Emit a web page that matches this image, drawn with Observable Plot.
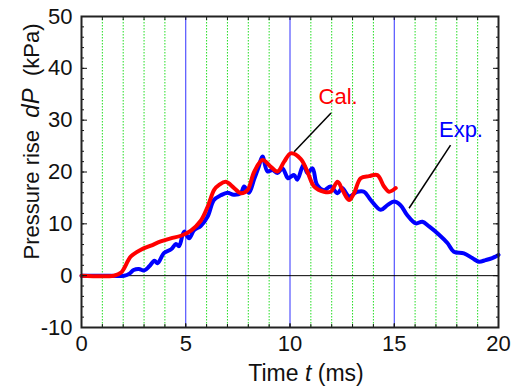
<!DOCTYPE html>
<html>
<head>
<meta charset="utf-8">
<script src="https://cdn.jsdelivr.net/npm/d3@7"></script>
<script src="https://cdn.jsdelivr.net/npm/@observablehq/plot@0.6"></script>
<style>
  html, body { margin: 0; padding: 0; background: #fff; }
  svg { font-family: "Liberation Sans", Arial, sans-serif; }
</style>
</head>
<body>
<div id="chart"></div>
<script>
// Experimental pressure rise (blue): time (ms), dP (kPa)
const expT = [0, 1, 2.05, 2.3, 2.5, 2.75, 3.0, 3.25, 3.5, 3.65, 3.96, 4.3, 4.53, 4.68, 4.92, 5.16, 5.4, 5.72, 6.05, 6.35, 6.68, 7.0, 7.3, 7.64, 7.8, 8.03, 8.27, 8.5, 8.68, 8.92, 9.16, 9.4, 9.64, 9.9, 10.04, 10.2, 10.35, 10.65, 10.84, 11.08, 11.3, 11.63, 11.95, 12.28, 12.5, 12.83, 13.23, 13.55, 13.87, 14.35, 14.67, 14.99, 15.3, 15.6, 16.03, 16.35, 16.67, 17.15, 17.55, 17.86, 18.34, 18.74, 19.06, 19.38, 19.7, 20.0];
const expP = [0, 0, 0, 0.4, 1.1, 1.3, 1.0, 1.8, 2.9, 2.4, 4.4, 5.1, 6.1, 5.7, 8.5, 7.2, 8.8, 9.6, 11.4, 14.6, 15.5, 16.0, 15.6, 15.9, 17.2, 16.0, 18.5, 21.0, 23.0, 20.1, 20.4, 19.8, 20.7, 18.8, 19.1, 19.4, 18.5, 21.4, 19.8, 20.7, 17.5, 16.5, 17.2, 15.9, 16.9, 15.3, 16.2, 16.2, 14.6, 12.7, 13.6, 14.3, 13.6, 11.8, 10.1, 10.4, 9.5, 7.9, 6.3, 4.6, 4.3, 3.4, 2.7, 3.0, 3.4, 4.0];
// Calculated pressure rise (red)
const calT = [0, 1.55, 1.9, 2.37, 2.85, 3.33, 3.8, 4.28, 4.77, 5.25, 5.72, 6.05, 6.37, 6.6, 6.92, 7.32, 7.64, 7.96, 8.28, 8.68, 9.08, 9.4, 9.72, 10.04, 10.52, 10.84, 11.16, 11.63, 11.95, 12.28, 12.52, 12.83, 13.07, 13.39, 13.79, 14.19, 14.51, 14.75, 15.07];
const calP = [0, 0, 0.6, 3.7, 5.0, 5.8, 6.6, 7.2, 7.7, 8.7, 10.6, 13.3, 16.6, 17.5, 18.1, 16.9, 15.9, 16.5, 20.0, 22.3, 21.0, 20.1, 22.0, 23.6, 22.5, 20.0, 17.2, 16.2, 16.2, 18.1, 16.5, 14.6, 15.9, 18.8, 19.2, 19.4, 17.2, 16.2, 16.9];

// Ticks
const xMajorTicks = [0, 5, 10, 15, 20];
const xMinorTicks = d3.range(0, 21, 1);
const yMajorTicks = [-10, 0, 10, 20, 30, 40, 50];
const yMinorTicks = d3.range(-10, 51, 2);
const greenGrid = d3.range(1, 20).filter(d => d % 5 !== 0);
const blueGrid = [5, 10, 15];

// Annotations
const labelText = ["Cal.", "Exp."];
const labelT = [12.31, 18.2];
const labelP = [34.5, 28.1];
const labelColor = ["#ff0000", "#0000ff"];
const leaderT1 = [11.97, 17.7];
const leaderP1 = [31.4, 25.2];
const leaderT2 = [10.2, 15.71];
const leaderP2 = [23.9, 13.0];

const expData = expT.map((t, i) => ({t, p: expP[i]}));
const calData = calT.map((t, i) => ({t, p: calP[i]}));
const labels = labelText.map((s, i) => ({s, t: labelT[i], p: labelP[i], c: labelColor[i]}));
const leaders = leaderT1.map((t, i) => ({t1: t, p1: leaderP1[i], t2: leaderT2[i], p2: leaderP2[i]}));

const W = 515, H = 390;
const chart = Plot.plot({
  width: W,
  height: H,
  marginLeft: 81,
  marginRight: 17,
  marginTop: 16,
  marginBottom: 63,
  style: {fontFamily: "'Liberation Sans', Arial, sans-serif", color: "#111", background: "#fff"},
  x: {domain: [0, 20]},
  y: {domain: [-10, 50]},
  marks: [
    Plot.ruleX(greenGrid, {stroke: "#22dd22", strokeWidth: 1, strokeDasharray: "1.5,1.5"}),
    Plot.ruleX(blueGrid, {stroke: "#3030ff", strokeWidth: 1}),
    Plot.ruleY([0], {stroke: "#000", strokeWidth: 1}),
    Plot.line(expData, {x: "t", y: "p", stroke: "#0000ff", strokeWidth: 4, curve: "catmull-rom"}),
    Plot.line(calData, {x: "t", y: "p", stroke: "#ff0000", strokeWidth: 4, curve: "catmull-rom"}),
    Plot.link(leaders, {x1: "t1", y1: "p1", x2: "t2", y2: "p2", stroke: "#000", strokeWidth: 1.5}),
    Plot.text(labels, {x: "t", y: "p", text: "s", fill: "c", fontSize: 22, textAnchor: "middle"}),
    // axes
    Plot.axisY({anchor: "left", ticks: yMajorTicks, tickSize: -6, tickPadding: 15, fontSize: 22, tickFormat: d => String(d), label: null}),
    Plot.axisY({anchor: "left", ticks: yMinorTicks, tickSize: -3, tickFormat: () => "", label: null}),
    Plot.axisY({anchor: "right", ticks: yMajorTicks, tickSize: -6, tickFormat: () => "", label: null}),
    Plot.axisY({anchor: "right", ticks: yMinorTicks, tickSize: -3, tickFormat: () => "", label: null}),
    Plot.axisX({anchor: "bottom", ticks: xMajorTicks, tickSize: -4, tickPadding: 12, fontSize: 22, tickFormat: d => String(d), label: null}),
    Plot.axisX({anchor: "bottom", ticks: xMinorTicks, tickSize: -3, tickFormat: () => "", label: null}),
    Plot.axisX({anchor: "top", ticks: xMinorTicks, tickSize: -3, tickFormat: () => "", label: null}),
    Plot.frame({stroke: "#222", strokeWidth: 2})
  ]
});
document.getElementById("chart").appendChild(chart);

// Axis titles with mixed styles
const svg = d3.select(chart);
const xt = svg.append("text")
  .attr("x", 306).attr("y", 381)
  .attr("text-anchor", "middle")
  .attr("font-size", 23)
  .attr("fill", "#111")
  .style("white-space", "pre");
xt.append("tspan").text("Time ");
xt.append("tspan").attr("font-style", "italic").text("t");
xt.append("tspan").text(" (ms)");

const yt = svg.append("text")
  .attr("transform", "translate(39,141.5) rotate(-90)")
  .attr("text-anchor", "middle")
  .attr("font-size", 22)
  .attr("fill", "#111")
  .style("white-space", "pre");
yt.append("tspan").text("Pressure rise  ");
yt.append("tspan").attr("font-style", "italic").attr("font-size", 24).text("dP");
yt.append("tspan").text("  (kPa)");
</script>
</body>
</html>
